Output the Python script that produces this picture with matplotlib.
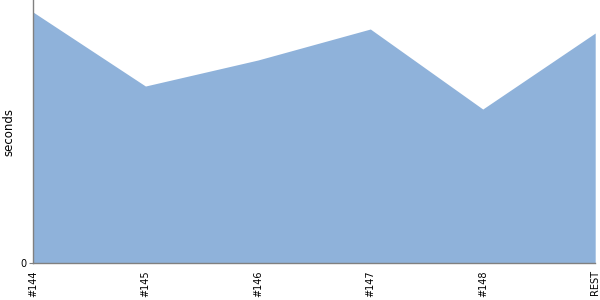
import matplotlib
matplotlib.use('Agg')
import matplotlib.pyplot as plt

# Builds and their timings
builds = ['#144', '#145', '#146', '#147', '#148', 'REST']
seconds = [251, 177, 203, 234, 154, 230]
y_top = 263

fig = plt.figure(figsize=(6, 3), dpi=100)
ax = fig.add_axes([0.055, 0.123, 0.937, 0.877])

x = list(range(len(builds)))
ax.fill_between(x, seconds, 0, color='#8fb2da', linewidth=0)

ax.set_xlim(0, len(builds) - 1)
ax.set_ylim(0, y_top)

ax.set_xticks(x)
ax.set_xticklabels(builds, rotation=90, fontsize=7)
ax.set_yticks([0])
ax.set_yticklabels(['0'], fontsize=7)
ax.tick_params(axis='x', length=0, pad=5)
ax.tick_params(axis='y', length=3, color='#808080', pad=2)

for side in ['top', 'right']:
    ax.spines[side].set_visible(False)
for side in ['left', 'bottom']:
    ax.spines[side].set_color('#808080')
    ax.spines[side].set_linewidth(1)

ax.set_ylabel('seconds', fontsize=8.5)
ax.yaxis.set_label_coords(-0.032, 0.5)

fig.savefig('out.png', dpi=100)
